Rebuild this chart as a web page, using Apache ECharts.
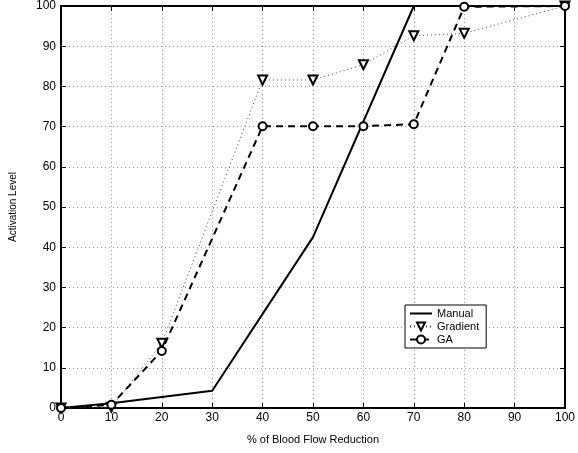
<!DOCTYPE html>
<html><head><meta charset="utf-8">
<script src="https://cdn.jsdelivr.net/npm/echarts@6/dist/echarts.min.js"></script>
<style>html,body{margin:0;padding:0;background:#fff}#c{width:578px;height:453px}</style>
</head><body><div id="c"></div>
<script>
const manualX = [0, 10, 30, 50, 70, 80, 90, 100];
const manualY = [0, 1.2, 4.3, 42.5, 100, 100, 100, 100];
const gradientX = [0, 10, 20, 40, 50, 60, 70, 80, 100];
const gradientY = [0, 0.2, 16.1, 81.6, 81.6, 85.4, 92.6, 93.2, 100];
const gaX = [0, 10, 20, 40, 50, 60, 70, 80, 100];
const gaY = [0, 0.8, 14.2, 70.1, 70.1, 70.1, 70.6, 99.8, 100];
const xTicks = [0,10,20,30,40,50,60,70,80,90,100];
const yTicks = [0,10,20,30,40,50,60,70,80,90,100];

const pair = (xs, ys) => xs.map((x, i) => [x, ys[i]]);
const font = 'Liberation Sans, Arial, Helvetica, sans-serif';
const chart = echarts.init(document.getElementById('c'));
const baseAxis = {
  type: 'value', min: 0, max: 100, interval: 10,
  axisLine: {show: true, onZero: false, lineStyle: {color: '#000', width: 2}},
  axisTick: {show: true, inside: true, length: 5, lineStyle: {color: '#000', width: 1}},
  splitLine: {show: false}
};
chart.setOption({
  animation: false,
  backgroundColor: '#fff',
  grid: {left: 59, right: 8, top: 5, bottom: 45, containLabel: false},
  xAxis: [
    Object.assign({}, baseAxis, {
      position: 'bottom', name: '% of Blood Flow Reduction', nameLocation: 'middle', nameGap: 26,
      nameTextStyle: {fontFamily: font, fontSize: 11, color: '#000'},
      axisLabel: {fontFamily: font, fontSize: 12, color: '#000', margin: 4, formatter: v => xTicks.includes(v) ? String(v) : ''},
      splitLine: {show: true, lineStyle: {color: '#999', type: [1, 3], width: 1}}
    }),
    Object.assign({}, baseAxis, {position: 'top', axisLabel: {show: false}})
  ],
  yAxis: [
    Object.assign({}, baseAxis, {
      position: 'left', name: 'Activation Level', nameLocation: 'middle', nameGap: 43,
      nameTextStyle: {fontFamily: font, fontSize: 10, color: '#000'},
      axisLabel: {fontFamily: font, fontSize: 12, color: '#000', margin: 5, formatter: v => yTicks.includes(v) ? String(v) : ''},
      splitLine: {show: true, lineStyle: {color: '#999', type: [1, 3], width: 1}}
    }),
    Object.assign({}, baseAxis, {position: 'right', axisLabel: {show: false}})
  ],
  legend: {
    orient: 'vertical', left: 405, top: 305,
    backgroundColor: '#fff', borderColor: '#000', borderWidth: 1,
    padding: [3, 7, 3, 4], itemGap: 2, itemWidth: 22, itemHeight: 10,
    textStyle: {fontFamily: font, fontSize: 11, color: '#000'},
    data: [{name: 'Manual', icon: 'path://M0,0H22V2H0Z'}, 'Gradient', 'GA']
  },
  series: [
    {name: 'Manual', type: 'line', data: pair(manualX, manualY), clip: false,
     showSymbol: false, symbol: 'none',
     lineStyle: {color: '#000', width: 2, type: 'solid'}, itemStyle: {color: '#000'}},
    {name: 'Gradient', type: 'line', data: pair(gradientX, gradientY), clip: false,
     symbol: 'triangle', symbolRotate: 180, symbolSize: 9,
     lineStyle: {color: '#444', width: 1, type: [1, 3]},
     itemStyle: {color: '#fff', borderColor: '#000', borderWidth: 2}},
    {name: 'GA', type: 'line', data: pair(gaX, gaY), clip: false,
     symbol: 'circle', symbolSize: 8,
     lineStyle: {color: '#000', width: 2, type: [7, 5]},
     itemStyle: {color: '#fff', borderColor: '#000', borderWidth: 2}, z: 3}
  ]
});
</script></body></html>
